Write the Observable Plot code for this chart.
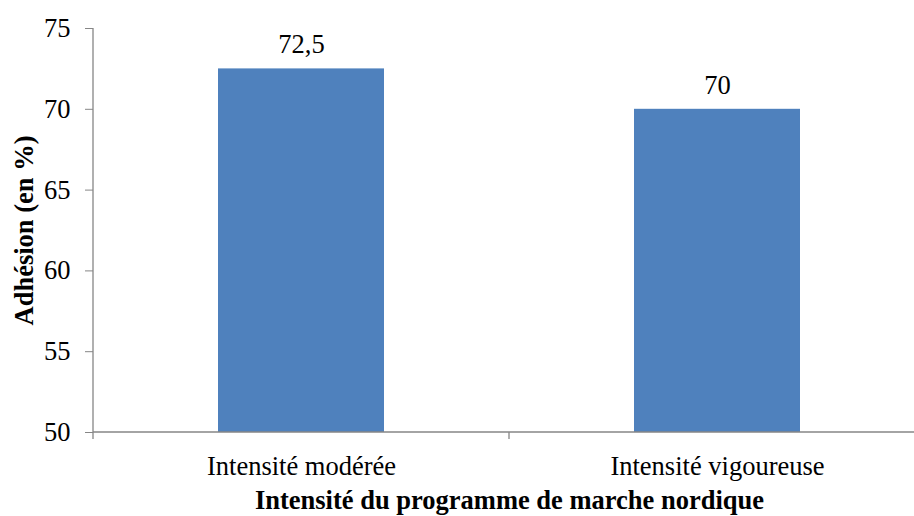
<!DOCTYPE html>
<html>
<head>
<meta charset="utf-8">
<script src="https://cdn.jsdelivr.net/npm/d3@7"></script>
<script src="https://cdn.jsdelivr.net/npm/@observablehq/plot@0.6"></script>
<style>
  html, body { margin: 0; padding: 0; background: #ffffff; overflow: hidden; width: 914px; height: 516px; }
  #chart { width: 925px; }
  #chart svg { display: block; max-width: none !important; font-family: 'Liberation Serif', 'Times New Roman', serif !important; font-size: 26.5px !important; }
</style>
</head>
<body>
<div id="chart"></div>
<script>
const categories = ["Intensité modérée", "Intensité vigoureuse"];
const values = [72.5, 70];
const yTicks = [50, 55, 60, 65, 70, 75];
const yTitle = "Adhésion (en %)";
const xTitle = "Intensité du programme de marche nordique";

const data = categories.map((c, i) => ({category: c, value: values[i]}));
const axisGray = "#868686";
const barColor = "#4F81BD";

// axis lines and category-boundary ticks, derived from the frame dimensions
function axisLines(index, scales, values, dims) {
  const g = d3.create("svg:g");
  const left = dims.marginLeft;
  const right = dims.width - dims.marginRight;
  const bottom = dims.height - dims.marginBottom;
  const top = dims.marginTop;
  g.append("line").attr("x1", left).attr("x2", left).attr("y1", top).attr("y2", bottom)
    .attr("stroke", axisGray).attr("stroke-width", 1.3);
  g.append("line").attr("x1", left).attr("x2", right).attr("y1", bottom).attr("y2", bottom)
    .attr("stroke", axisGray).attr("stroke-width", 1.3);
  const n = categories.length;
  for (let i = 0; i <= n; i++) {
    const x = left + i * (right - left) / n;
    g.append("line").attr("x1", x).attr("x2", x).attr("y1", bottom).attr("y2", bottom + 7)
      .attr("stroke", axisGray).attr("stroke-width", 1.3);
  }
  return g.node();
}

const chart = Plot.plot({
  width: 925,
  height: 516,
  marginLeft: 93,
  marginRight: 0,
  marginTop: 28,
  marginBottom: 84,
  style: {fontFamily: "'Liberation Serif', 'Times New Roman', serif", fontSize: "26.5px", color: "#000", background: "#fff"},
  x: {type: "band", domain: categories, paddingInner: 0.6, paddingOuter: 0.3, label: null},
  y: {domain: [50, 75], label: null},
  marks: [
    Plot.barY(data, {x: "category", y1: 50, y2: "value", fill: barColor}),
    Plot.text(data, {x: "category", y: "value", text: d => String(d.value).replace(".", ","), dy: -24, fill: "#000"}),
    Plot.axisY({ticks: yTicks, tickSize: 8, tickPadding: 15, stroke: axisGray, fill: "#000", label: null, tickFormat: d => String(d)}),
    Plot.axisX({tickSize: 0, tickPadding: 24, fill: "#000", label: null}),
    Plot.text([xTitle], {frameAnchor: "bottom", dy: 76, fontWeight: "bold", fill: "#000"}),
    Plot.text([yTitle], {frameAnchor: "left", textAnchor: "middle", dx: -69, rotate: -90, fontWeight: "bold", fill: "#000"}),
    axisLines
  ]
});
document.getElementById("chart").appendChild(chart);
</script>
</body>
</html>
